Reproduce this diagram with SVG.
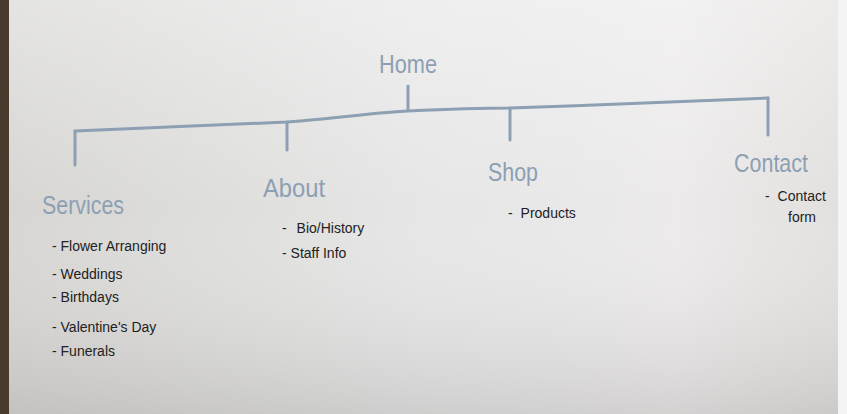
<svg xmlns="http://www.w3.org/2000/svg" width="847" height="414" viewBox="0 0 847 414">
<style>
.head{font-family:"Liberation Sans",sans-serif;fill:#8d9fb3;font-size:25px}
.item{font-family:"Liberation Sans",sans-serif;fill:#222;font-size:14px}
.ln{fill:none;stroke:#8d9fb3;stroke-width:3;stroke-linecap:round;stroke-linejoin:round}
</style>
<defs>
<linearGradient id="paper" x1="0" y1="0" x2="1" y2="0">
<stop offset="0" stop-color="#d6d5d2"/>
<stop offset="0.5" stop-color="#e6e6e6"/>
<stop offset="0.8" stop-color="#eceaea"/>
<stop offset="1" stop-color="#e2e0de"/>
</linearGradient>
<linearGradient id="shade" x1="0" y1="0" x2="0" y2="1">
<stop offset="0" stop-color="#ffffff" stop-opacity="0.35"/>
<stop offset="0.5" stop-color="#ffffff" stop-opacity="0"/>
<stop offset="1" stop-color="#8a8886" stop-opacity="0.25"/>
</linearGradient>
</defs>
<rect width="847" height="414" fill="url(#paper)"/>
<rect width="847" height="414" fill="url(#shade)"/>
<rect x="0" y="0" width="9" height="414" fill="#4a3a2e"/>
<rect x="838" y="0" width="9" height="414" fill="#f4f4f4"/>
<g id="connectors">
<path class="ln" d="M408,86 L408,110"/>
<path class="ln" d="M75,131 C180,127 250,124 287,122 C340,118 380,112 408,111 C450,109 480,108 510,108 C600,105 700,101 768,98"/>
<path class="ln" d="M75,131 L75,165"/>
<path class="ln" d="M287,122 L287,150"/>
<path class="ln" d="M510,108 L510,140"/>
<path class="ln" d="M768,98 L768,135"/>
</g>
<g id="home"><text class="head" x="408" y="73" text-anchor="middle" textLength="58" lengthAdjust="spacingAndGlyphs">Home</text></g>
<g id="services">
<text class="head" x="42" y="214" textLength="82" lengthAdjust="spacingAndGlyphs">Services</text>
<text class="item" x="52" y="251">- Flower Arranging</text>
<text class="item" x="52" y="279">- Weddings</text>
<text class="item" x="52" y="302">- Birthdays</text>
<text class="item" x="52" y="332">- Valentine's Day</text>
<text class="item" x="52" y="356">- Funerals</text>
</g>
<g id="about">
<text class="head" x="263" y="197" textLength="62" lengthAdjust="spacingAndGlyphs">About</text>
<text class="item" x="282" y="233">- <tspan dx="6">Bio/History</tspan></text>
<text class="item" x="282" y="258">- Staff Info</text>
</g>
<g id="shop">
<text class="head" x="488" y="181" textLength="50" lengthAdjust="spacingAndGlyphs">Shop</text>
<text class="item" x="508" y="218">- <tspan dx="4">Products</tspan></text>
</g>
<g id="contact">
<text class="head" x="734" y="172" textLength="74" lengthAdjust="spacingAndGlyphs">Contact</text>
<text class="item" x="765" y="201">- <tspan dx="4">Contact</tspan></text>
<text class="item" x="788" y="222">form</text>
</g>
</svg>
